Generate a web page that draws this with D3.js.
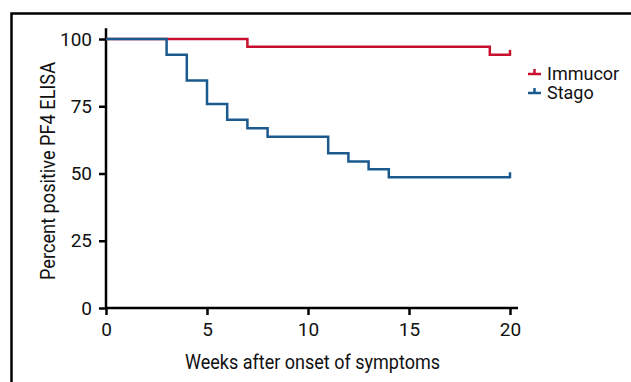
<!DOCTYPE html>
<html>
<head>
<meta charset="utf-8">
<script src="https://cdn.jsdelivr.net/npm/d3@7"></script>
<style>
  body { margin: 0; background: #fff; }
  text { font-family: "Roboto", "DejaVu Sans", sans-serif; }
</style>
</head>
<body>
<div id="chart"></div>
<script>
// data
const immucorWeeks = [0, 7, 19, 20];
const immucorPct = [100, 97.1, 94.1, 94.1];
const stagoWeeks = [0, 3, 4, 5, 6, 7, 8, 11, 12, 13, 14, 20];
const stagoPct = [100, 94.1, 84.6, 75.8, 70.0, 66.8, 63.7, 57.5, 54.5, 51.6, 48.6, 48.6];
const xTicks = [0, 5, 10, 15, 20];
const yTicks = [0, 25, 50, 75, 100];
const seriesNames = ["Immucor", "Stago"];
const colors = ["#c8102e", "#1b5a8f"];

const W = 631, H = 382;
const svg = d3.select("#chart").append("svg")
  .attr("width", W)
  .attr("height", H);

// outer frame (cut off at right & bottom)
svg.append("path")
  .attr("d", "M11.5," + (H + 5) + "V13.5H" + (W + 5))
  .attr("fill", "none")
  .attr("stroke", "#000")
  .attr("stroke-width", 2.5);

const x = d3.scaleLinear().domain([0, 20]).range([106, 510]);
const y = d3.scaleLinear().domain([0, 100]).range([308, 39]);

// axis lines
svg.append("line")
  .attr("x1", x(0)).attr("x2", x(0))
  .attr("y1", y(0)).attr("y2", y(104))
  .attr("stroke", "#000").attr("stroke-width", 2.5);
svg.append("line")
  .attr("x1", x(0) - 1).attr("x2", x(20) + 8)
  .attr("y1", y(0)).attr("y2", y(0))
  .attr("stroke", "#000").attr("stroke-width", 2.5);

const xAxis = svg.append("g")
  .attr("transform", "translate(0," + y(0) + ")")
  .call(d3.axisBottom(x).tickValues(xTicks).tickSize(7).tickPadding(8).tickSizeOuter(0));
xAxis.select(".domain").remove();
xAxis.selectAll("line").attr("stroke", "#000").attr("stroke-width", 2.5);
xAxis.selectAll("text")
  .attr("font-family", null)
  .attr("font-size", 19)
  .attr("fill", "#111");

const yAxis = svg.append("g")
  .attr("transform", "translate(" + x(0) + ",0)")
  .call(d3.axisLeft(y).tickValues(yTicks).tickSize(7).tickPadding(7).tickSizeOuter(0));
yAxis.select(".domain").remove();
yAxis.selectAll("line").attr("stroke", "#000").attr("stroke-width", 2.5);
yAxis.selectAll("text")
  .attr("font-family", null)
  .attr("font-size", 19)
  .attr("fill", "#111");

// axis titles (condensed look)
svg.append("text")
  .attr("x", 185)
  .attr("y", 369)
  .attr("font-size", 21)
  .attr("fill", "#111")
  .attr("textLength", 255)
  .attr("lengthAdjust", "spacingAndGlyphs")
  .text("Weeks after onset of symptoms");

svg.append("text")
  .attr("transform", "translate(55,280) rotate(-90)")
  .attr("font-size", 21)
  .attr("fill", "#111")
  .attr("textLength", 218)
  .attr("lengthAdjust", "spacingAndGlyphs")
  .text("Percent positive PF4 ELISA");

// survival curves
const line = d3.line()
  .x(d => x(d[0]))
  .y(d => y(d[1]))
  .curve(d3.curveStepAfter);

const series = [
  d3.zip(immucorWeeks, immucorPct),
  d3.zip(stagoWeeks, stagoPct)
];

series.forEach((pts, i) => {
  svg.append("path")
    .datum(pts)
    .attr("fill", "none")
    .attr("stroke", colors[i])
    .attr("stroke-width", 2.5)
    .attr("d", line);
  // censor tick at the last point
  const last = pts[pts.length - 1];
  svg.append("line")
    .attr("x1", x(last[0])).attr("x2", x(last[0]))
    .attr("y1", y(last[1]) + 1).attr("y2", y(last[1]) - 5)
    .attr("stroke", colors[i])
    .attr("stroke-width", 2.5);
});

// legend
let legX = 528, legY = 74;
seriesNames.forEach((name, i) => {
  const ly = legY + i * 19;
  svg.append("line")
    .attr("x1", legX).attr("x2", legX + 13)
    .attr("y1", ly).attr("y2", ly)
    .attr("stroke", colors[i]).attr("stroke-width", 2.5);
  svg.append("line")
    .attr("x1", legX + 6.5).attr("x2", legX + 6.5)
    .attr("y1", ly).attr("y2", ly - 5)
    .attr("stroke", colors[i]).attr("stroke-width", 2.5);
  svg.append("text")
    .attr("x", legX + 19)
    .attr("y", ly + 6)
    .attr("font-size", 18)
    .attr("fill", "#111")
    .text(name);
});
</script>
</body>
</html>
